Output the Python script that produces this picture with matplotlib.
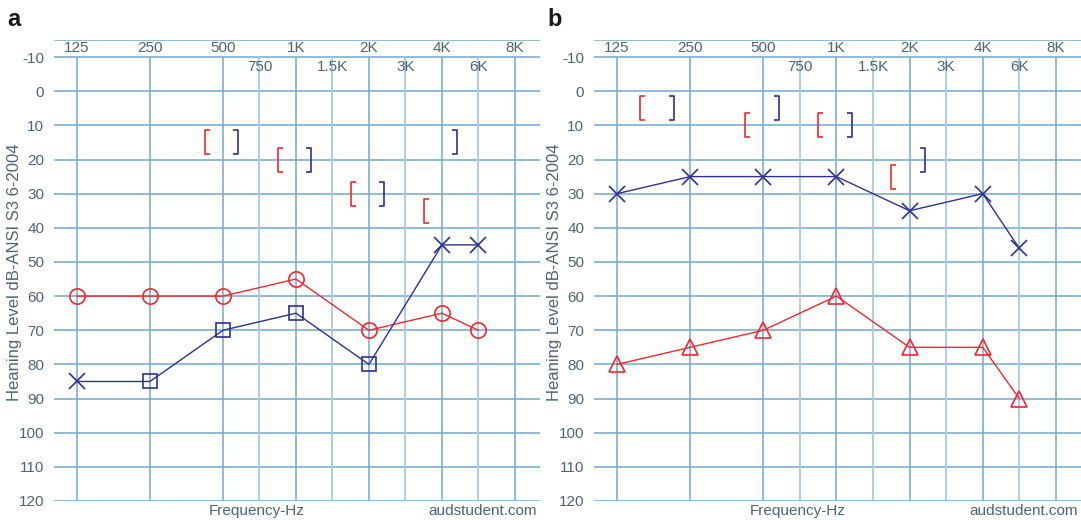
"""
    Two audiograms (panels a and b) drawn on a log2 frequency grid.
"""

import numpy as np
import matplotlib
matplotlib.use('Agg')
import matplotlib.pyplot as plt
from matplotlib.path import Path

plt.rcParams['font.family'] = ['Liberation Sans', 'DejaVu Sans']

# Grid / label data.
octave_freqs = [125, 250, 500, 1000, 2000, 4000, 8000]
octave_labels = ['125', '250', '500', '1K', '2K', '4K', '8K']
mid_freqs = [750, 1500, 3000, 6000]
mid_labels = ['750', '1.5K', '3K', '6K']
db_ticks = list(range(-10, 130, 10))

# Panel a.
a_freqs = [125, 250, 500, 1000, 2000, 4000, 6000]
a_red_circle = [60, 60, 60, 55, 70, 65, 70]
a_blue_line = [85, 85, 70, 65, 80, 45, 45]
a_blue_x_freqs = [125, 4000, 6000]
a_blue_x = [85, 45, 45]
a_blue_sq_freqs = [250, 500, 1000, 2000]
a_blue_sq = [85, 70, 65, 80]
a_red_bc_freqs = [500, 1000, 2000, 4000]
a_red_bc = [15, 20, 30, 35]
a_blue_bc_freqs = [500, 1000, 2000, 4000]
a_blue_bc = [15, 20, 30, 15]

# Panel b.
b_freqs = [125, 250, 500, 1000, 2000, 4000, 6000]
b_blue_x = [30, 25, 25, 25, 35, 30, 46]
b_red_tri = [80, 75, 70, 60, 75, 75, 90]
b_red_bc_freqs = [185, 500, 1000, 2000]
b_red_bc = [5, 10, 10, 25]
b_blue_bc_freqs = [185, 500, 1000, 2000]
b_blue_bc = [5, 5, 10, 20]

RED = '#f0282d'
BLUE = '#2e3192'
GRID = '#72a8d0'
GRID_LIGHT = '#a6cae3'
TEXT = '#4f6470'

# Bracket markers for masked bone conduction.
left_bracket = Path([(0.45, -1), (0, -1), (0, 1), (0.45, 1)],
                    [Path.MOVETO, Path.LINETO, Path.LINETO, Path.LINETO])
right_bracket = Path([(-0.45, -1), (0, -1), (0, 1), (-0.45, 1)],
                     [Path.MOVETO, Path.LINETO, Path.LINETO, Path.LINETO])


def xpos(freqs):
    # The audiogram puts 750/1.5K/3K/6K halfway between the octaves.
    out = []
    for f in freqs:
        if f in mid_freqs:
            f = np.sqrt((f / 1.5) * (f / 0.75))
        out.append(f)
    return np.array(out, dtype=float)


def draw_grid(ax):
    ax.set_xscale('log', base=2)
    ax.set_xlim(100.5, 10150)
    ax.set_ylim(120, -15)
    for s in ax.spines.values():
        s.set_visible(False)
    ax.set_xticks([])
    ax.set_yticks(db_ticks)
    ax.set_yticklabels([str(v) for v in db_ticks])
    ax.tick_params(axis='y', length=0, pad=7, labelsize=11, labelcolor=TEXT)
    ax.minorticks_off()
    ax.axhline(-15, color=GRID, lw=1.1, zorder=1)
    for v in db_ticks:
        ax.axhline(v, color=GRID, lw=1.1, zorder=1)
    ax.vlines(xpos(octave_freqs), -10, 120, color=GRID, lw=1.1, zorder=1)
    ax.vlines(xpos(mid_freqs), -10, 120, color=GRID_LIGHT, lw=1.3, zorder=1)
    for f, lab in zip(xpos(octave_freqs), octave_labels):
        ax.text(f, -12.6, lab, ha='center', va='center', fontsize=11, color=TEXT)
    for f, lab in zip(xpos(mid_freqs), mid_labels):
        ax.text(f, -7.1, lab, ha='center', va='center', fontsize=11, color=TEXT)
    ax.text(0.418, -0.022, 'Frequency-Hz', transform=ax.transAxes,
            ha='center', va='center', fontsize=11, color=TEXT)
    ax.text(0.994, -0.022, 'audstudent.com', transform=ax.transAxes,
            ha='right', va='center', fontsize=11, color=TEXT)


def draw_brackets(ax, red_f, red_v, blue_f, blue_v):
    rf = xpos(red_f) * 2 ** -0.25
    bf = xpos(blue_f) * 2 ** 0.21
    ax.plot(rf, red_v, ls='none', marker=left_bracket, ms=17,
            mec=RED, mfc='none', mew=1.2, zorder=3)
    ax.plot(bf, blue_v, ls='none', marker=right_bracket, ms=17,
            mec=BLUE, mfc='none', mew=1.2, zorder=3)


fig = plt.figure(figsize=(10.81, 5.2), dpi=100)
ax_a = fig.add_axes([54 / 1081, 1 - 501 / 520, 486 / 1081, 461 / 520])
ax_b = fig.add_axes([594 / 1081, 1 - 501 / 520, 487 / 1081, 461 / 520])

# Panel a.
draw_grid(ax_a)
ax_a.plot(xpos(a_freqs), a_red_circle, color=RED, lw=1, marker='o', ms=11,
          mfc='none', mec=RED, mew=1.2, zorder=4)
ax_a.plot(xpos(a_freqs), a_blue_line, color=BLUE, lw=1, zorder=4)
ax_a.plot(xpos(a_blue_x_freqs), a_blue_x, ls='none', marker='x', ms=11,
          mec=BLUE, mew=1.2, zorder=5)
ax_a.plot(xpos(a_blue_sq_freqs), a_blue_sq, ls='none', marker='s', ms=10,
          mfc='none', mec=BLUE, mew=1.2, zorder=5)
draw_brackets(ax_a, a_red_bc_freqs, a_red_bc, a_blue_bc_freqs, a_blue_bc)

# Panel b.
draw_grid(ax_b)
ax_b.plot(xpos(b_freqs), b_blue_x, color=BLUE, lw=1, marker='x', ms=11,
          mec=BLUE, mew=1.2, zorder=4)
ax_b.plot(xpos(b_freqs), b_red_tri, color=RED, lw=1, marker='^', ms=12,
          mfc='none', mec=RED, mew=1.2, zorder=4)
draw_brackets(ax_b, b_red_bc_freqs, b_red_bc, b_blue_bc_freqs, b_blue_bc)

for x in [15 / 1081, 555 / 1081]:
    fig.text(x, 1 - 272 / 520, 'Heaning Level dB-ANSI S3 6-2004', rotation=90,
             ha='center', va='center', fontsize=12, color=TEXT)
fig.text(7 / 1081, 1 - 20 / 520, 'a', fontsize=17, fontweight='bold',
         ha='left', va='center', color='#1a1a1a')
fig.text(547 / 1081, 1 - 20 / 520, 'b', fontsize=17, fontweight='bold',
         ha='left', va='center', color='#1a1a1a')

plt.savefig('out.png', dpi=100)
plt.close()
